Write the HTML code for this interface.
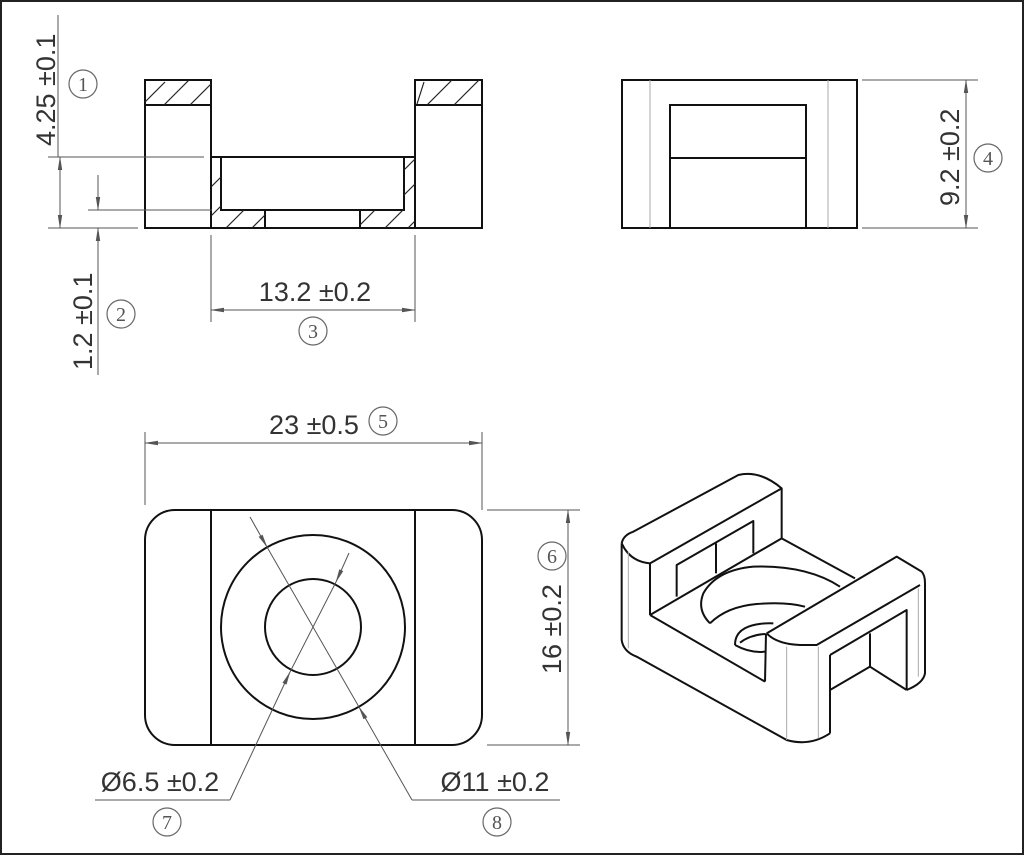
<!DOCTYPE html>
<html><head><style>
html,body{margin:0;padding:0;background:#fff}
svg{display:block}
text{font-family:"Liberation Sans",sans-serif;fill:#333}
.n{font-family:"Liberation Serif",serif;font-size:20px;fill:#555}
.cc{fill:none;stroke:#666;stroke-width:1.2}
</style></head><body>
<svg width="1024" height="855" viewBox="0 0 1024 855" xmlns="http://www.w3.org/2000/svg">
<defs>
<marker id="a" markerWidth="14" markerHeight="6" refX="13" refY="3" orient="auto-start-reverse" markerUnits="userSpaceOnUse"><path d="M0,0.8 L14,3 L0,5.2 Z" fill="#555"/></marker>
</defs>
<rect x="1" y="1" width="1022" height="853" fill="#fff" stroke="#222" stroke-width="2"/>

<g fill="none" stroke="#111" stroke-width="2">
<rect x="145" y="80" width="66" height="148"/>
<line x1="145" y1="105" x2="211" y2="105"/>
<rect x="415" y="80" width="67" height="148"/>
<line x1="415" y1="105" x2="482" y2="105"/>
<polyline points="211,157 415,157"/>
<line x1="211" y1="228" x2="415" y2="228"/>
<rect x="221" y="157" width="183" height="53"/>
<line x1="265" y1="210" x2="265" y2="228"/>
<line x1="360" y1="210" x2="360" y2="228"/>
</g>
<g stroke="#222" stroke-width="1.2">
<line x1="145" y1="102" x2="165" y2="82"/><line x1="164" y1="105" x2="189" y2="80"/><line x1="190" y1="105" x2="211" y2="84"/>
<line x1="417" y1="104" x2="424" y2="82"/><line x1="427" y1="105" x2="452" y2="80"/><line x1="454" y1="105" x2="479" y2="80"/>
<line x1="211" y1="187" x2="221" y2="177"/><line x1="211" y1="216" x2="221" y2="206"/>
<line x1="226" y1="228" x2="244" y2="210"/><line x1="252" y1="228" x2="265" y2="215"/>
<line x1="360" y1="225" x2="375" y2="210"/><line x1="385" y1="228" x2="403" y2="210"/>
<line x1="404" y1="195" x2="415" y2="184"/><line x1="404" y1="170" x2="415" y2="159"/><line x1="408" y1="228" x2="415" y2="221"/>
</g>
<g stroke="#555" stroke-width="1" fill="none">
<line x1="48" y1="157" x2="204" y2="157"/>
<line x1="48" y1="228" x2="138" y2="228"/>
<line x1="58" y1="15" x2="58" y2="157"/>
<line x1="60" y1="157" x2="60" y2="228" marker-start="url(#a)" marker-end="url(#a)"/>
<line x1="88" y1="210" x2="212" y2="210"/>
<line x1="98" y1="175" x2="98" y2="210" marker-end="url(#a)"/>
<line x1="98" y1="375" x2="98" y2="228" marker-end="url(#a)"/>
<line x1="211" y1="235" x2="211" y2="322"/>
<line x1="415" y1="235" x2="415" y2="322"/>
<line x1="211" y1="310" x2="415" y2="310" marker-start="url(#a)" marker-end="url(#a)"/>
</g>
<text transform="translate(55,146) rotate(-90)" font-size="27">4.25 ±0.1</text>
<text transform="translate(92,370) rotate(-90)" font-size="27">1.2 ±0.1</text>
<text x="315" y="301" font-size="27" text-anchor="middle">13.2 ±0.2</text>
<circle class="cc" cx="83" cy="84" r="14"/><text class="n" x="83" y="91" text-anchor="middle">1</text>
<circle class="cc" cx="121" cy="314" r="14"/><text class="n" x="121" y="321" text-anchor="middle">2</text>
<circle class="cc" cx="313" cy="331" r="14"/><text class="n" x="313" y="338" text-anchor="middle">3</text>

<g fill="none" stroke="#111" stroke-width="2">
<rect x="622" y="80" width="235" height="148"/>
<rect x="670" y="105" width="136" height="123"/>
<line x1="670" y1="158" x2="806" y2="158"/>
</g>
<g stroke="#aaa" stroke-width="1"><line x1="650" y1="80" x2="650" y2="228"/><line x1="828" y1="80" x2="828" y2="228"/></g>
<g stroke="#555" stroke-width="1">
<line x1="862" y1="80" x2="978" y2="80"/><line x1="862" y1="228" x2="978" y2="228"/>
<line x1="966" y1="80" x2="966" y2="228" marker-start="url(#a)" marker-end="url(#a)"/>
</g>
<text transform="translate(959,206) rotate(-90)" font-size="27">9.2 ±0.2</text>
<circle class="cc" cx="988" cy="158" r="14"/><text class="n" x="988" y="165" text-anchor="middle">4</text>

<g fill="none" stroke="#111" stroke-width="2">
<rect x="145" y="510" width="337" height="235" rx="30" ry="30"/>
<line x1="211" y1="510" x2="211" y2="745"/>
<line x1="415" y1="510" x2="415" y2="745"/>
<circle cx="313" cy="627" r="92"/>
<circle cx="313" cy="627" r="48"/>
</g>
<g stroke="#555" stroke-width="1" fill="none">
<line x1="145" y1="432" x2="145" y2="505"/><line x1="482" y1="432" x2="482" y2="510"/>
<line x1="145" y1="443" x2="482" y2="443" marker-start="url(#a)" marker-end="url(#a)"/>
<line x1="487" y1="510" x2="580" y2="510"/><line x1="487" y1="745" x2="580" y2="745"/>
<line x1="568" y1="510" x2="568" y2="745" marker-start="url(#a)" marker-end="url(#a)"/>
<line x1="250" y1="517" x2="267" y2="547" marker-end="url(#a)"/>
<line x1="267" y1="547" x2="359" y2="707"/>
<polyline points="412,800 359,707" marker-end="url(#a)"/>
<polyline points="412,800 560,800"/>
<line x1="349" y1="553" x2="336" y2="582" marker-end="url(#a)"/>
<line x1="336" y1="582" x2="290" y2="672"/>
<polyline points="230,800 290,672" marker-end="url(#a)"/>
<polyline points="230,800 95,800"/>
</g>
<text x="314" y="434" font-size="27" text-anchor="middle">23 ±0.5</text>
<circle class="cc" cx="383" cy="421" r="14"/><text class="n" x="383" y="428" text-anchor="middle">5</text>
<text transform="translate(561,674) rotate(-90)" font-size="27">16 ±0.2</text>
<circle class="cc" cx="552" cy="556" r="14"/><text class="n" x="552" y="563" text-anchor="middle">6</text>
<text x="160" y="791" font-size="27" text-anchor="middle">Ø6.5 ±0.2</text>
<circle class="cc" cx="167" cy="822" r="14"/><text class="n" x="167" y="829" text-anchor="middle">7</text>
<text x="495" y="791" font-size="27" text-anchor="middle">Ø11 ±0.2</text>
<circle class="cc" cx="497" cy="822" r="14"/><text class="n" x="497" y="829" text-anchor="middle">8</text>

<g transform="translate(600,460) scale(0.33333)" fill="none" stroke="#111" stroke-width="6" stroke-linejoin="round">
<path d="M65,250 Q70,225 100,215 L415,45 Q480,30 545,85 L545,235"/>
<path d="M65,250 Q90,305 150,310 L545,85"/>
<line x1="150" y1="310" x2="150" y2="465"/>
<path d="M230,410 L230,315 L460,183 L460,280"/>
<line x1="348" y1="250" x2="348" y2="340"/>
<path d="M150,465 L495,665"/>
<path d="M150,465 L545,235 L765,355"/>
<path d="M65,250 L65,540 Q70,575 110,590 L560,840 Q630,860 690,820"/>
<path d="M500,520 Q530,552 600,555 L650,555 L960,375"/>
<path d="M500,520 L890,290 L965,335 Q975,345 975,370 L975,640 Q970,670 920,690"/>
<line x1="498" y1="520" x2="495" y2="665"/>
<line x1="690" y1="585" x2="690" y2="820"/>
<path d="M690,585 L920,450 L920,690"/>
<path d="M690,690 L810,620 L810,520"/>
<line x1="810" y1="620" x2="920" y2="690"/>
<path d="M330,490 Q290,450 310,400 Q350,330 460,320 Q620,315 720,380"/>
<path d="M330,490 Q380,440 470,432 Q560,425 615,440"/>
<path d="M405,555 Q405,515 445,500 Q480,488 520,490"/>
<path d="M420,548 Q450,525 495,522"/>
<path d="M405,555 Q450,580 495,575"/>
</g>
<g transform="translate(600,460) scale(0.33333)" stroke="#aaa" stroke-width="3">
<line x1="85" y1="275" x2="85" y2="565"/>
<line x1="560" y1="560" x2="560" y2="840"/>
<line x1="655" y1="560" x2="655" y2="835"/>
<line x1="955" y1="385" x2="955" y2="650"/>
</g>
</svg>
</body></html>
